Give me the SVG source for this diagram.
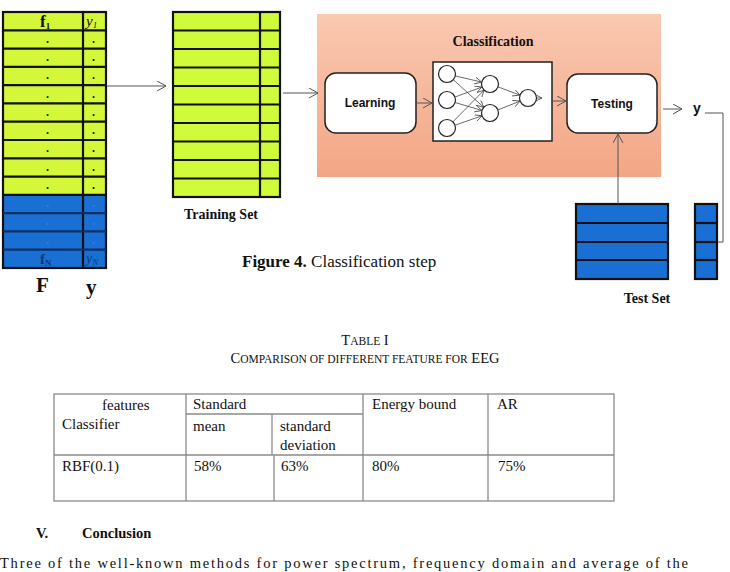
<svg xmlns="http://www.w3.org/2000/svg" width="730" height="572" viewBox="0 0 730 572">
<style>
.serif{font-family:"Liberation Serif","Times New Roman",serif;fill:#111}
.sans{font-family:"Liberation Sans",Arial,sans-serif;fill:#111}
.yel{fill:#d4f73a}
.blu{fill:#1a6fd4}
.grid{stroke:#111;stroke-width:2.2;fill:none}
.conn{stroke:#555;stroke-width:1;fill:none}
.nn{stroke:#444;stroke-width:0.8;fill:none}
.node{fill:#fff;stroke:#222;stroke-width:1.2}
.tb{stroke:#8a8a8a;stroke-width:1.3;fill:none}
.t15{font-size:15px}
</style>
<defs>
<linearGradient id="sal" x1="0" y1="0" x2="0" y2="1">
<stop offset="0" stop-color="#f9c9b1"/>
<stop offset="1" stop-color="#f3a685"/>
</linearGradient>
<marker id="ah" markerUnits="userSpaceOnUse" markerWidth="12" markerHeight="12" refX="9" refY="5" orient="auto">
<path d="M0,0 L9,5 L0,10" fill="none" stroke="#555" stroke-width="1"/>
</marker>
<marker id="ahs" markerUnits="userSpaceOnUse" markerWidth="9" markerHeight="9" refX="7" refY="3.5" orient="auto">
<path d="M0,0 L7,3.5 L0,7" fill="none" stroke="#444" stroke-width="0.8"/>
</marker>
</defs>
<rect width="730" height="572" fill="#fff"/>

<!-- Full dataset F / y -->
<g id="dataset">
<rect class="yel" x="3" y="12" width="103" height="183"/>
<rect class="blu" x="3" y="195" width="103" height="73"/>
<g class="grid">
<rect x="3" y="12" width="103" height="256"/>
<line x1="83" y1="12" x2="83" y2="268"/>
<line x1="3" y1="30.3" x2="106" y2="30.3"/>
<line x1="3" y1="48.6" x2="106" y2="48.6"/>
<line x1="3" y1="66.9" x2="106" y2="66.9"/>
<line x1="3" y1="85.1" x2="106" y2="85.1"/>
<line x1="3" y1="103.4" x2="106" y2="103.4"/>
<line x1="3" y1="121.7" x2="106" y2="121.7"/>
<line x1="3" y1="140" x2="106" y2="140"/>
<line x1="3" y1="158.3" x2="106" y2="158.3"/>
<line x1="3" y1="176.6" x2="106" y2="176.6"/>
<line x1="3" y1="194.9" x2="106" y2="194.9"/>
<line x1="3" y1="213.1" x2="106" y2="213.1" stroke="#0b2f66"/>
<line x1="3" y1="231.4" x2="106" y2="231.4" stroke="#0b2f66"/>
<line x1="3" y1="249.7" x2="106" y2="249.7" stroke="#0b2f66"/>
</g>
<text class="serif" x="40" y="27" font-size="17" font-weight="bold">f<tspan font-size="9" dy="2">1</tspan></text>
<text class="serif" x="86" y="26" font-size="15" font-style="italic">y<tspan font-size="9" dy="2">1</tspan></text>
<g class="serif" font-size="12" font-weight="bold">
<text x="46" y="43">.</text><text x="92" y="43">.</text>
<text x="46" y="61">.</text><text x="92" y="61">.</text>
<text x="46" y="79">.</text><text x="92" y="79">.</text>
<text x="46" y="98">.</text><text x="92" y="98">.</text>
<text x="46" y="116">.</text><text x="92" y="116">.</text>
<text x="46" y="134">.</text><text x="92" y="134">.</text>
<text x="46" y="152">.</text><text x="92" y="152">.</text>
<text x="46" y="171">.</text><text x="92" y="171">.</text>
<text x="46" y="189">.</text><text x="92" y="189">.</text>
</g>
<g class="serif" font-size="12" font-weight="bold" style="fill:#3a7fd0">
<text x="46" y="207">.</text><text x="92" y="207">.</text>
<text x="46" y="225">.</text><text x="92" y="225">.</text>
<text x="46" y="244">.</text><text x="92" y="244">.</text>
</g>
<text class="serif" x="40" y="264" font-size="15" font-weight="bold" style="fill:#0d3a7a">f<tspan font-size="9" dy="2">N</tspan></text>
<text class="serif" x="86" y="263" font-size="14" font-style="italic" style="fill:#0d3a7a">y<tspan font-size="9" dy="2">N</tspan></text>
<text class="serif" x="36" y="292" font-size="21" font-weight="bold">F</text>
<text class="serif" x="86" y="294" font-size="21" font-weight="bold">y</text>
</g>

<!-- Training set -->
<g id="training-set">
<rect class="yel" x="173" y="12" width="107" height="185" style="fill:#d0fb3a"/>
<g class="grid">
<rect x="173" y="12" width="107" height="185"/>
<line x1="260" y1="12" x2="260" y2="197"/>
<line x1="173" y1="30.5" x2="280" y2="30.5"/>
<line x1="173" y1="49" x2="280" y2="49"/>
<line x1="173" y1="67.5" x2="280" y2="67.5"/>
<line x1="173" y1="86" x2="280" y2="86"/>
<line x1="173" y1="104.5" x2="280" y2="104.5"/>
<line x1="173" y1="123" x2="280" y2="123"/>
<line x1="173" y1="141.5" x2="280" y2="141.5"/>
<line x1="173" y1="160" x2="280" y2="160"/>
<line x1="173" y1="178.5" x2="280" y2="178.5"/>
</g>
<text class="serif" x="221" y="219" font-size="14" font-weight="bold" text-anchor="middle">Training Set</text>
</g>

<!-- Classification container -->
<g id="classification">
<rect x="317" y="14" width="344" height="163" fill="url(#sal)"/>
<text class="serif" x="493" y="46" font-size="14" font-weight="bold" text-anchor="middle">Classification</text>
</g>

<g id="learning">
<rect x="325" y="73" width="91" height="60" rx="11" fill="#fff" stroke="#222" stroke-width="1.5"/>
<text class="sans" x="370" y="107" font-size="12" font-weight="bold" text-anchor="middle">Learning</text>
</g>

<g id="network">
<rect x="433" y="62" width="119" height="79" fill="#fff" stroke="#222" stroke-width="1.5"/>
<g class="nn" marker-end="url(#ahs)">
<line x1="455.3" y1="75.9" x2="481.7" y2="82.1"/>
<line x1="453.3" y1="79.7" x2="483.7" y2="107.3"/>
<line x1="455" y1="97" x2="482" y2="87"/>
<line x1="455.1" y1="102.5" x2="481.9" y2="110.5"/>
<line x1="452.9" y1="121.9" x2="484.1" y2="90.1"/>
<line x1="455" y1="125.2" x2="482" y2="115.8"/>
<line x1="498" y1="86.9" x2="520" y2="95.1"/>
<line x1="497.9" y1="109.9" x2="520.1" y2="101.1"/>
<line x1="536.5" y1="98" x2="542" y2="98"/>
</g>
<circle class="node" cx="447" cy="74" r="8.5"/>
<circle class="node" cx="447" cy="100" r="8.5"/>
<circle class="node" cx="447" cy="128" r="8.5"/>
<circle class="node" cx="490" cy="84" r="8.5"/>
<circle class="node" cx="490" cy="113" r="8.5"/>
<circle class="node" cx="528" cy="98" r="8.5"/>
</g>

<g id="testing">
<rect x="567" y="74" width="90" height="59" rx="11" fill="#fff" stroke="#222" stroke-width="1.5"/>
<text class="sans" x="612" y="108" font-size="12" font-weight="bold" text-anchor="middle">Testing</text>
</g>

<g id="output-y">
<text class="sans" x="697" y="113" font-size="14" font-weight="bold" text-anchor="middle">y</text>
</g>

<!-- Test set -->
<g id="test-set">
<rect class="blu" x="576" y="204" width="92" height="75"/>
<rect class="blu" x="695" y="204" width="22" height="75"/>
<g class="grid">
<rect x="576" y="204" width="92" height="75"/>
<line x1="576" y1="223" x2="668" y2="223"/>
<line x1="576" y1="242" x2="668" y2="242"/>
<line x1="576" y1="260" x2="668" y2="260"/>
<rect x="695" y="204" width="22" height="75"/>
<line x1="695" y1="223" x2="717" y2="223"/>
<line x1="695" y1="242" x2="717" y2="242"/>
<line x1="695" y1="260" x2="717" y2="260"/>
</g>
<text class="serif" x="647" y="303" font-size="14" font-weight="bold" text-anchor="middle">Test Set</text>
</g>

<!-- Connectors -->
<g id="connectors" class="conn">
<line x1="107" y1="86" x2="166" y2="86" marker-end="url(#ah)"/>
<line x1="283" y1="93" x2="318" y2="93" marker-end="url(#ah)"/>
<line x1="417" y1="103" x2="432" y2="103" marker-end="url(#ah)"/>
<line x1="553" y1="101" x2="566" y2="101" marker-end="url(#ah)"/>
<line x1="663" y1="109" x2="682" y2="109" marker-end="url(#ah)"/>
<line x1="618" y1="204" x2="618" y2="134" marker-end="url(#ah)"/>
<polyline points="705,113 723,113 723,242 718,242"/>
</g>

<!-- Caption -->
<text class="serif" x="242" y="267" font-size="17"><tspan font-weight="bold">Figure 4.</tspan> Classification step</text>

<!-- Table title -->
<text class="serif" x="365" y="345" font-size="14.5" text-anchor="middle">T<tspan font-size="11.5">ABLE</tspan> I</text>
<text class="serif" x="365" y="363" font-size="14.5" text-anchor="middle">C<tspan font-size="11.5">OMPARISON OF DIFFERENT FEATURE FOR</tspan> EEG</text>

<!-- Table -->
<g id="table">
<g class="tb">
<rect x="54" y="394" width="560" height="107"/>
<line x1="186" y1="394" x2="186" y2="501"/>
<line x1="363" y1="394" x2="363" y2="501"/>
<line x1="488" y1="394" x2="488" y2="501"/>
<line x1="186" y1="414" x2="363" y2="414"/>
<line x1="54" y1="455" x2="614" y2="455"/>
<line x1="272" y1="414" x2="272" y2="455"/>
<line x1="274" y1="455" x2="274" y2="501"/>
</g>
<g class="serif t15">
<text x="102" y="410">features</text>
<text x="62" y="429">Classifier</text>
<text x="62" y="471">RBF(0.1)</text>
<text x="193" y="409">Standard</text>
<text x="193" y="431">mean</text>
<text x="280" y="431">standard</text>
<text x="280" y="450">deviation</text>
<text x="372" y="409">Energy bound</text>
<text x="497" y="409">AR</text>
<text x="194" y="471">58%</text>
<text x="281" y="471">63%</text>
<text x="372" y="471">80%</text>
<text x="498" y="471">75%</text>
</g>
</g>

<text class="serif" x="36" y="538" font-size="14.5" font-weight="bold">V.</text>
<text class="serif" x="82" y="538" font-size="14.5" font-weight="bold">Conclusion</text>
<text class="serif" x="0" y="568" font-size="14.5" textLength="688" lengthAdjust="spacing">Three of the well-known methods for power spectrum, frequency domain and average of the</text>
</svg>
